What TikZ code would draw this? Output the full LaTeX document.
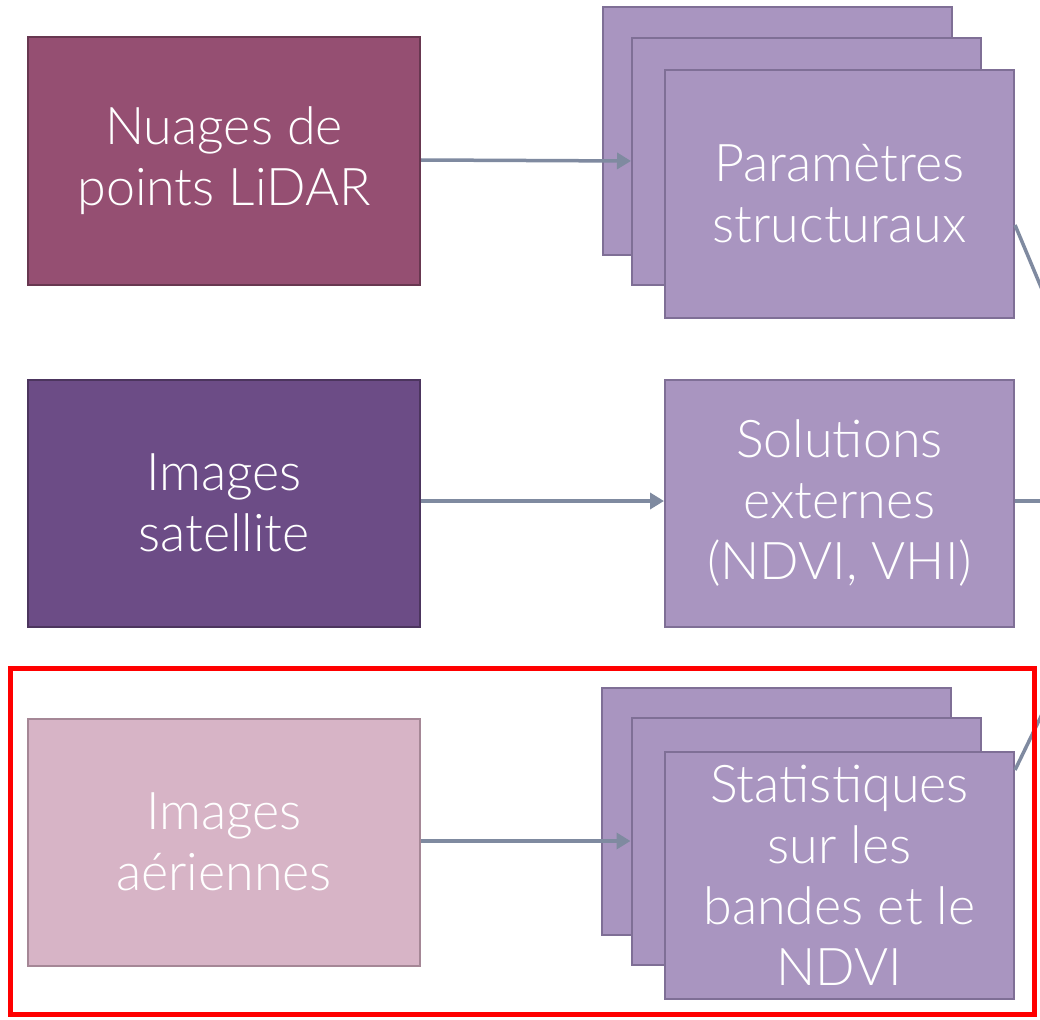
\documentclass[tikz,border=0pt]{standalone}
\usepackage{fontspec}
\setmainfont{Lato}[UprightFont=* Light]
\usetikzlibrary{arrows.meta}
\definecolor{lidar}{RGB}{149,79,114}
\definecolor{satel}{RGB}{108,76,134}
\definecolor{aerial}{RGB}{215,180,198}
\definecolor{aerialedge}{RGB}{165,135,150}
\definecolor{proc}{RGB}{169,149,192}
\definecolor{procedge}{RGB}{127,111,150}
\definecolor{link}{RGB}{127,138,160}
\tikzset{
  x=1pt, y=-1pt,
  label text/.style={text=white, align=center, font=\fontsize{52}{61}\selectfont, inner sep=0pt},
  srcbox/.style={draw=#1!70!black, fill=#1, line width=2pt, minimum width=392pt, minimum height=247pt, label text},
  procbox/.style={draw=procedge, fill=proc, line width=2pt, minimum width=349pt, minimum height=247pt, label text},
  flow/.style={draw=link, line width=3.5pt, -{Triangle[length=14pt,width=16pt]}},
  outlink/.style={draw=link, line width=3.5pt},
}
\begin{document}
\begin{tikzpicture}
\useasboundingbox (0,0) rectangle (1040,1019);
\fill[white] (0,0) rectangle (1040,1019);

% source data boxes
\node[srcbox=lidar] (lidar) at (224,161) {Nuages de\\points LiDAR};
\node[srcbox=satel] (sat) at (224,503) {Images\\satellite};
\node[draw=aerialedge, fill=aerial, line width=2pt, minimum width=392pt, minimum height=247pt,
  label text] (aer) at (224,842) {Images\\aériennes};

% structural parameters (stacked)
\node[procbox] (p1a) at (777.5,131) {};
\node[procbox] (p1b) at (806.5,161.5) {};
\node[procbox] (p1) at (839.5,194) {Paramètres\\structuraux};

% external solutions
\node[procbox] (p2) at (839.5,503) {Solutions\\externes\\(NDVI, VHI)};

% band statistics (stacked)
\node[procbox] (p3a) at (776.5,811.5) {};
\node[procbox] (p3b) at (806,841.5) {};
\node[procbox] (p3) at (839.5,875) {Statistiques\\sur les\\bandes et le\\NDVI};

% connectors
\draw[flow] (lidar.east |- 0,160) -- (p1b.west |- 0,161);
\draw[flow] (sat.east |- 0,501) -- (p2.west |- 0,501);
\draw[flow] (aer.east |- 0,841) -- (p3b.west |- 0,841);

\coordinate (o1) at (1046,299);
\coordinate (o2) at (1046,501);
\coordinate (o3) at (1046,706);
\draw[outlink] (p1.east |- 0,225) -- (o1);
\draw[outlink] (p2.east |- 0,501) -- (o2);
\draw[outlink] (p3.east |- 0,770) -- (o3);

% highlight frame
\draw[red, line width=5pt] (10.5,668.5) rectangle (1034.5,1014.5);
\end{tikzpicture}
\end{document}
